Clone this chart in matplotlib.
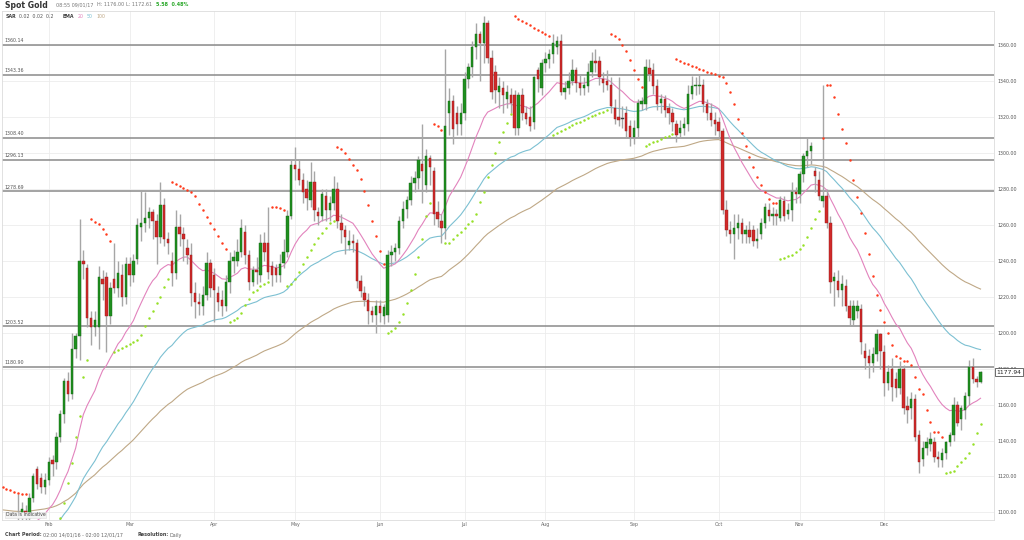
import matplotlib
matplotlib.use('Agg')
import matplotlib.pyplot as plt
import numpy as np
import pandas as pd

# daily candles 14/01/16 .. 09/01/17 (spot gold)
opens = [
    1086, 1074, 1089, 1088, 1089, 1099, 1101, 1097, 1108, 1124, 1119, 1114,  # Jan
    1118, 1129, 1128, 1142, 1155, 1173, 1166, 1191, 1198, 1240, 1236, 1208, 1203, 1203, 1230, 1231, 1209, 1230, 1225, 1232, 1220,  # Feb
    1238, 1232, 1241, 1259, 1261, 1264, 1267, 1262, 1253, 1271, 1252, 1240, 1233, 1259, 1255, 1247, 1243, 1222, 1217, 1215, 1221, 1239,  # Mar
    1232, 1222, 1218, 1215, 1228, 1240, 1240, 1245, 1256, 1243, 1228, 1235, 1232, 1250, 1250, 1237, 1236, 1232, 1239, 1245, 1265,  # Apr
    1293, 1291, 1285, 1280, 1274, 1284, 1267, 1265, 1276, 1268, 1272, 1280, 1261, 1257, 1249, 1251, 1250, 1229, 1222, 1218, 1212, 1210,  # May
    1215, 1209, 1210, 1243, 1245, 1247, 1262, 1269, 1274, 1283, 1286, 1294, 1282, 1297, 1290, 1267, 1262, 1258, 1322, 1329, 1322, 1316,  # Jun
    1322, 1341, 1348, 1359, 1366, 1361, 1372, 1353, 1345, 1334, 1336, 1330, 1332, 1332, 1314, 1332, 1322, 1320, 1317, 1346, 1336,  # Jul
    1350, 1352, 1355, 1359, 1362, 1334, 1336, 1340, 1346, 1339, 1336, 1337, 1345, 1351, 1351, 1341, 1340, 1338, 1325, 1320, 1319, 1322, 1315,  # Aug
    1309, 1314, 1327, 1327, 1347, 1346, 1337, 1328, 1330, 1325, 1322, 1316, 1311, 1314, 1316, 1333, 1337, 1337, 1338, 1327, 1322, 1318,  # Sep
    1317, 1312, 1268, 1257, 1255, 1258, 1261, 1255, 1257, 1257, 1251, 1255, 1261, 1268, 1265, 1266, 1264, 1273, 1266, 1268, 1278,  # Oct
    1277, 1288, 1298, 1301, 1290, 1285, 1273, 1276, 1261, 1229, 1229, 1224, 1226, 1215, 1207, 1212, 1213, 1190, 1187, 1183, 1188, 1199,  # Nov
    1189, 1172, 1180, 1174, 1169, 1180, 1159, 1158, 1163, 1143, 1130, 1136, 1138, 1139, 1131, 1129, 1133, 1139, 1143, 1160, 1152,  # Dec
    1157, 1165, 1181, 1174, 1172.4,  # Jan 17
]
highs = [
    1093, 1094, 1092, 1093, 1110, 1106, 1104, 1111, 1122, 1126, 1122, 1122,
    1131, 1132, 1145, 1157, 1175, 1178, 1200, 1200, 1263, 1246, 1238, 1212, 1212, 1237, 1235, 1234, 1228, 1250, 1240, 1238, 1242,
    1242, 1244, 1264, 1279, 1278, 1270, 1269, 1266, 1284, 1275, 1256, 1245, 1268, 1266, 1259, 1252, 1250, 1228, 1222, 1226, 1245, 1241,
    1236, 1226, 1224, 1232, 1245, 1246, 1252, 1263, 1260, 1246, 1237, 1242, 1255, 1256, 1270, 1240, 1238, 1244, 1252, 1268, 1296,
    1303, 1296, 1289, 1285, 1295, 1290, 1270, 1280, 1280, 1276, 1287, 1284, 1266, 1260, 1257, 1255, 1252, 1232, 1226, 1222, 1215, 1218,
    1218, 1216, 1246, 1249, 1250, 1265, 1273, 1276, 1287, 1290, 1298, 1316, 1302, 1299, 1292, 1273, 1266, 1358, 1336, 1332, 1326, 1328,
    1345, 1350, 1362, 1372, 1368, 1376, 1374, 1357, 1349, 1342, 1340, 1338, 1336, 1335, 1334, 1336, 1326, 1326, 1343, 1348, 1352,
    1356, 1358, 1366, 1365, 1366, 1340, 1345, 1352, 1348, 1344, 1342, 1350, 1356, 1358, 1354, 1345, 1346, 1342, 1330, 1342, 1326, 1326, 1318,
    1318, 1330, 1331, 1352, 1352, 1350, 1341, 1333, 1332, 1328, 1325, 1318, 1318, 1320, 1338, 1343, 1342, 1344, 1341, 1330, 1328, 1323,
    1320, 1314, 1274, 1262, 1266, 1266, 1264, 1260, 1262, 1260, 1258, 1264, 1272, 1272, 1270, 1269, 1276, 1276, 1272, 1284, 1281,
    1290, 1300, 1308, 1306, 1292, 1290, 1338, 1280, 1265, 1234, 1235, 1232, 1230, 1218, 1218, 1218, 1216, 1194, 1191, 1192, 1202, 1200,
    1193, 1182, 1186, 1178, 1184, 1182, 1165, 1167, 1166, 1146, 1140, 1142, 1145, 1142, 1134, 1136, 1140, 1145, 1164, 1162, 1160,
    1167, 1185, 1186, 1176, 1178.5,
]
lows = [
    1070, 1072, 1084, 1082, 1085, 1093, 1094, 1095, 1106, 1113, 1111, 1110,
    1115, 1120, 1124, 1139, 1150, 1162, 1163, 1186, 1185, 1230, 1203, 1193, 1198, 1191, 1218, 1189, 1205, 1222, 1220, 1215, 1216,
    1226, 1228, 1238, 1251, 1256, 1258, 1252, 1238, 1250, 1248, 1244, 1226, 1230, 1248, 1240, 1238, 1215, 1208, 1210, 1210, 1218, 1220,
    1206, 1212, 1209, 1212, 1222, 1233, 1237, 1242, 1238, 1224, 1226, 1227, 1228, 1240, 1230, 1226, 1228, 1228, 1236, 1242, 1263,
    1285, 1282, 1272, 1268, 1270, 1262, 1260, 1262, 1262, 1262, 1268, 1258, 1250, 1244, 1246, 1245, 1225, 1220, 1215, 1205, 1206, 1200,
    1206, 1205, 1206, 1237, 1240, 1244, 1258, 1264, 1271, 1278, 1280, 1272, 1278, 1282, 1260, 1259, 1250, 1252, 1310, 1305, 1310, 1310,
    1318, 1336, 1342, 1352, 1340, 1350, 1350, 1330, 1328, 1325, 1322, 1325, 1322, 1310, 1310, 1318, 1316, 1312, 1313, 1334, 1332,
    1345, 1347, 1350, 1355, 1332, 1330, 1333, 1338, 1334, 1332, 1332, 1334, 1342, 1345, 1338, 1334, 1335, 1322, 1316, 1315, 1314, 1309, 1304,
    1305, 1309, 1324, 1324, 1340, 1333, 1324, 1322, 1320, 1316, 1312, 1306, 1308, 1310, 1312, 1330, 1332, 1333, 1323, 1318, 1315, 1310,
    1308, 1266, 1254, 1250, 1241, 1252, 1250, 1250, 1250, 1248, 1247, 1252, 1258, 1262, 1260, 1260, 1262, 1262, 1263, 1262, 1272,
    1272, 1284, 1292, 1294, 1278, 1274, 1270, 1258, 1222, 1215, 1220, 1215, 1212, 1204, 1204, 1208, 1188, 1180, 1175, 1178, 1184, 1180,
    1165, 1168, 1162, 1164, 1166, 1155, 1150, 1152, 1140, 1122, 1126, 1132, 1134, 1128, 1125, 1125, 1130, 1137, 1140, 1148, 1146,
    1152, 1160, 1172, 1170, 1172.2,
]
closes = [
    1074, 1089, 1088, 1089, 1095, 1102, 1098, 1108, 1120, 1116, 1114, 1118,
    1128, 1127, 1142, 1155, 1173, 1166, 1191, 1198, 1240, 1238, 1208, 1203, 1207, 1231, 1227, 1209, 1225, 1225, 1233, 1220, 1238,
    1232, 1240, 1260, 1261, 1264, 1267, 1262, 1253, 1271, 1252, 1250, 1233, 1259, 1255, 1252, 1243, 1222, 1217, 1216, 1221, 1239, 1225,
    1224, 1217, 1215, 1228, 1240, 1242, 1245, 1258, 1243, 1228, 1235, 1234, 1250, 1245, 1234, 1232, 1232, 1238, 1245, 1265, 1293,
    1291, 1285, 1278, 1275, 1284, 1268, 1265, 1277, 1268, 1272, 1280, 1262, 1257, 1253, 1251, 1250, 1229, 1223, 1218, 1212, 1210, 1215,
    1211, 1214, 1243, 1245, 1247, 1262, 1269, 1274, 1283, 1286, 1296, 1290, 1298, 1292, 1266, 1263, 1258, 1315, 1329, 1313, 1316, 1322,
    1341, 1348, 1359, 1366, 1361, 1372, 1353, 1334, 1335, 1337, 1332, 1334, 1328, 1314, 1332, 1322, 1319, 1315, 1342, 1341, 1350,
    1352, 1355, 1361, 1362, 1334, 1336, 1340, 1346, 1339, 1336, 1338, 1345, 1351, 1350, 1342, 1339, 1338, 1326, 1319, 1318, 1319, 1312, 1309,
    1314, 1328, 1329, 1348, 1344, 1337, 1327, 1330, 1324, 1322, 1317, 1310, 1314, 1316, 1333, 1337, 1338, 1338, 1327, 1322, 1318, 1316,
    1312, 1268, 1257, 1255, 1258, 1261, 1255, 1257, 1253, 1251, 1252, 1261, 1270, 1265, 1266, 1265, 1274, 1265, 1268, 1278, 1277,
    1288, 1298, 1301, 1304, 1287, 1276, 1276, 1261, 1228, 1231, 1224, 1227, 1215, 1208, 1215, 1215, 1195, 1186, 1183, 1188, 1199, 1190,
    1172, 1178, 1170, 1169, 1180, 1158, 1157, 1163, 1142, 1128, 1136, 1139, 1141, 1131, 1130, 1133, 1139, 1143, 1160, 1150, 1158,
    1165, 1181, 1174, 1172.4, 1177.94,
]

levels = [1360.14, 1343.36, 1308.40, 1296.13, 1278.69, 1203.52, 1180.90]
month_names = ['Feb', 'Mar', 'Apr', 'May', 'Jun', 'Jul', 'Aug', 'Sep', 'Oct', 'Nov', 'Dec']
last_price = 1177.94

# trading days (no Good Friday, Boxing day, 2 Jan)
dates = pd.bdate_range('2016-01-14', '2017-01-09')
dates = dates.drop(pd.to_datetime(['2016-03-25', '2016-12-26', '2017-01-02']))

o = np.array(opens, float)
h = np.array(highs, float)
l = np.array(lows, float)
c = np.array(closes, float)
x = np.arange(len(c))

month_idx = [i for i in range(1, len(dates))
             if dates[i].month != dates[i - 1].month and dates[i].year == 2016]


def ema(values, n, seed):
    a = 2.0 / (n + 1)
    out = []
    e = seed
    for v in values:
        e = e + a * (v - e)
        out.append(e)
    return np.array(out)


def psar(high, low, step=0.02, max_af=0.2, start=1114.0):
    n = len(high)
    sar = np.zeros(n)
    up = np.zeros(n, bool)
    trend_up = False
    sar[0] = start
    ep = low[0]
    af = step
    for i in range(1, n):
        s = sar[i - 1] + af * (ep - sar[i - 1])
        j = max(i - 2, 0)
        if trend_up:
            s = min(s, low[i - 1], low[j])
            if low[i] < s:
                trend_up = False
                s, ep, af = ep, low[i], step
            elif high[i] > ep:
                ep = high[i]
                af = min(af + step, max_af)
        else:
            s = max(s, high[i - 1], high[j])
            if high[i] > s:
                trend_up = True
                s, ep, af = ep, high[i], step
            elif low[i] < ep:
                ep = low[i]
                af = min(af + step, max_af)
        sar[i] = s
        up[i] = trend_up
    return sar, up


ema20 = ema(c, 20, 1085)
ema50 = ema(c, 50, 1080)
ema100 = ema(c, 100, 1102)
sar, sar_up = psar(h, l)

fig = plt.figure(figsize=(10.24, 5.4), dpi=100)
ax = fig.add_axes([2 / 1024, 20 / 540, 992 / 1024, 509 / 540])
ax.set_xlim(-0.13, 257.5)
ax.set_ylim(1095.8, 1378.9)

for v in range(1100, 1361, 20):
    ax.axhline(v, color='#ececec', lw=0.6, zorder=0)
for m in month_idx:
    ax.axvline(m, color='#ececec', lw=0.6, zorder=0)

for lv in levels:
    ax.axhline(lv, color='#8a8a8a', lw=1.1, zorder=1)
    ax.text(0.6, lv + 0.9, f'{lv:.2f}', fontsize=3.4, color='#555555', va='bottom', ha='left')

ax.plot(x, ema100, color='#bfa886', lw=0.8, zorder=2)
ax.plot(x, ema50, color='#7cc0d2', lw=0.8, zorder=2)
ax.plot(x, ema20, color='#e283bd', lw=0.8, zorder=2)

# candles
ax.vlines(x, l, h, color='#a6a6a6', lw=1.0, zorder=3)
body_lo = np.minimum(o, c)
body_h = np.maximum(np.abs(c - o), 0.6)
cols = np.where(c > o, '#1f8f1f', np.where(c < o, '#d12a2a', '#444444'))
edges = np.where(c > o, '#146614', np.where(c < o, '#8f1b1b', '#333333'))
ax.bar(x, body_h, bottom=body_lo, width=0.62, color=cols, edgecolor=edges, lw=0.3, zorder=4)

# parabolic SAR dots
ax.scatter(x[~sar_up], sar[~sar_up], s=3.2, color='#ff3b1c', lw=0, zorder=5)
ax.scatter(x[sar_up], sar[sar_up], s=3.2, color='#97e028', lw=0, zorder=5)

ax.yaxis.tick_right()
ax.set_yticks(range(1100, 1361, 20))
ax.set_yticklabels([f'{v:.2f}' for v in range(1100, 1361, 20)])
ax.set_xticks(month_idx)
ax.set_xticklabels(month_names)
ax.tick_params(axis='y', length=0, pad=2.5, labelsize=3.4, colors='#555555')
ax.tick_params(axis='x', length=0, pad=1.5, labelsize=3.4, colors='#666666')
for sp in ax.spines.values():
    sp.set_color('#dcdcdc')
    sp.set_linewidth(0.6)

ax.text(1.0025, last_price, f'{last_price:.2f}', transform=ax.get_yaxis_transform(),
        fontsize=4.3, va='center', ha='left', color='#222222', zorder=10, clip_on=False,
        bbox=dict(boxstyle='square,pad=0.25', fc='white', ec='#333333', lw=0.5))

ax.text(0.8, 1097.2, 'Data is Indicative', fontsize=3.3, color='#444444', va='bottom', zorder=6,
        bbox=dict(boxstyle='square,pad=0.2', fc='#f4f4f4', ec='#dddddd', lw=0.4))

# indicator legend inside the plot
ty = 1 - 16 / 540
fig.text(6 / 1024, ty, 'SAR', fontsize=3.4, fontweight='bold', color='#444444', va='center')
fig.text(19 / 1024, ty, '0.02  0.02  0.2', fontsize=3.4, color='#555555', va='center')
fig.text(63 / 1024, ty, 'EMA', fontsize=3.4, fontweight='bold', color='#444444', va='center')
fig.text(78 / 1024, ty, '20', fontsize=3.4, color='#e283bd', va='center')
fig.text(87 / 1024, ty, '50', fontsize=3.4, color='#7cc0d2', va='center')
fig.text(96 / 1024, ty, '100', fontsize=3.4, color='#bfa886', va='center')

# header
hy = 1 - 5 / 540
fig.text(5 / 1024, hy, 'Spot Gold', fontsize=5.6, fontweight='bold', color='#333333', va='center')
fig.text(56 / 1024, hy, '08:55 09/01/17', fontsize=3.5, color='#777777', va='center')
fig.text(97 / 1024, hy, 'H: 1176.00', fontsize=3.5, color='#777777', va='center')
fig.text(126 / 1024, hy, 'L: 1172.61', fontsize=3.5, color='#777777', va='center')
fig.text(156 / 1024, hy, '5.58  0.48%', fontsize=3.5, color='#2aa82a', fontweight='bold', va='center')

# footer
fy = 1 - 535 / 540
fig.text(5 / 1024, fy, 'Chart Period:', fontsize=3.5, fontweight='bold', color='#444444', va='center')
fig.text(43 / 1024, fy, '02:00 14/01/16 - 02:00 12/01/17', fontsize=3.5, color='#666666', va='center')
fig.text(138 / 1024, fy, 'Resolution:', fontsize=3.5, fontweight='bold', color='#444444', va='center')
fig.text(170 / 1024, fy, 'Daily', fontsize=3.5, color='#666666', va='center')

fig.savefig('out.png', dpi=100, facecolor='white')
